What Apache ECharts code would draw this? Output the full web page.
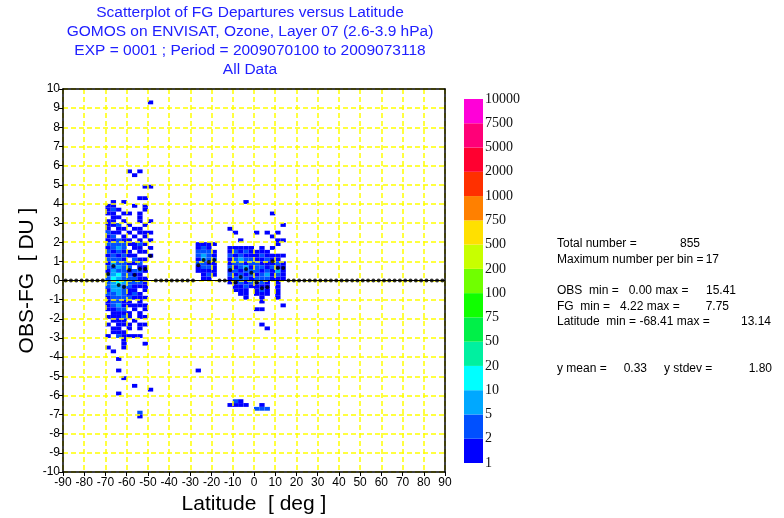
<!DOCTYPE html>
<html>
<head>
<meta charset="utf-8">
<script src="https://cdn.jsdelivr.net/npm/echarts@6/dist/echarts.min.js"></script>
<style>
html, body { margin: 0; padding: 0; background: #fff; }
#main { width: 784px; height: 518px; }
</style>
</head>
<body>
<div id="main"></div>
<script>
// histogram bin size (latitude deg, departure DU)
var latBin = 2.5
var depBin = 0.2

// colour scale: level boundaries (counts per bin) and colours, bottom to top
var levelLabels = ['1', '2', '5', '10', '20', '50', '75', '100', '200', '500', '750', '1000', '2000', '5000', '7500', '10000']
var levelValues = [1, 2, 5, 10, 20, 50, 75, 100, 200, 500, 750, 1000, 2000, 5000, 7500, 10000]
var levelColors = ['#0000ff', '#0050ff', '#00a8ff', '#00ffff', '#00f0a0', '#00f048', '#10ff00', '#70ff00', '#c8ff00', '#ffe000', '#ff8000', '#ff3000', '#ff0030', '#ff0078', '#ff00d8']

// southern high-latitude block: latitude bin centres, departure bin centres, counts
var blockALat = [-68.75, -66.25, -63.75, -61.25, -58.75, -56.25, -53.75, -51.25, -48.75]
var blockADep = [4.3, 4.1, 3.9, 3.7, 3.5, 3.3, 3.1, 2.9, 2.7, 2.5, 2.3, 2.1, 1.9, 1.7, 1.5, 1.3, 1.1, 0.9, 0.7, 0.5, 0.3, 0.1,
  -0.1, -0.3, -0.5, -0.7, -0.9, -1.1, -1.3, -1.5, -1.7, -1.9, -2.1, -2.3, -2.5, -2.7, -2.9, -3.1, -3.3, -3.5, -3.7]
var blockACounts = [
  [0, 0, 0, 0, 0, 0, 1, 1, 0],
  [0, 1, 0, 1, 0, 0, 0, 0, 0],
  [1, 1, 0, 0, 0, 1, 0, 1, 0],
  [1, 3, 1, 0, 0, 0, 0, 1, 0],
  [1, 1, 0, 1, 1, 0, 1, 0, 0],
  [0, 1, 1, 0, 0, 0, 1, 0, 0],
  [1, 1, 0, 1, 0, 0, 1, 0, 1],
  [1, 1, 3, 0, 1, 0, 0, 1, 0],
  [1, 0, 1, 1, 0, 1, 1, 0, 0],
  [3, 1, 1, 0, 1, 0, 1, 1, 1],
  [1, 3, 0, 1, 0, 1, 0, 1, 0],
  [1, 1, 3, 1, 1, 0, 1, 0, 1],
  [3, 3, 3, 3, 1, 1, 3, 1, 0],
  [1, 3, 6, 3, 0, 1, 1, 0, 1],
  [3, 1, 3, 1, 1, 0, 1, 1, 0],
  [1, 3, 1, 3, 1, 1, 0, 0, 1],
  [3, 3, 3, 1, 0, 3, 1, 1, 0],
  [1, 6, 3, 3, 1, 1, 3, 0, 0],
  [3, 3, 6, 3, 3, 0, 1, 1, 0],
  [1, 6, 3, 3, 1, 3, 3, 1, 0],
  [3, 6, 12, 3, 3, 1, 1, 0, 0],
  [3, 12, 6, 3, 3, 3, 1, 1, 0],
  [3, 6, 12, 6, 3, 3, 3, 1, 0],
  [3, 6, 6, 3, 3, 1, 1, 1, 0],
  [1, 6, 6, 3, 1, 1, 0, 1, 0],
  [3, 3, 6, 3, 1, 3, 1, 0, 0],
  [1, 3, 3, 3, 3, 1, 1, 1, 0],
  [1, 3, 3, 1, 1, 0, 1, 0, 0],
  [1, 3, 6, 1, 1, 1, 1, 1, 0],
  [1, 1, 3, 3, 0, 1, 0, 1, 0],
  [0, 1, 1, 1, 1, 0, 1, 0, 0],
  [1, 1, 1, 3, 1, 0, 1, 1, 0],
  [0, 1, 1, 1, 0, 1, 0, 0, 0],
  [1, 0, 1, 1, 1, 0, 1, 1, 0],
  [0, 1, 1, 0, 1, 0, 1, 0, 0],
  [0, 1, 1, 1, 0, 0, 0, 0, 0],
  [1, 0, 3, 1, 1, 1, 1, 0, 0],
  [0, 0, 0, 1, 0, 0, 0, 0, 0],
  [0, 0, 0, 1, 0, 0, 0, 1, 0],
  [1, 0, 0, 1, 0, 0, 0, 0, 0],
  [0, 1, 0, 0, 0, 0, 0, 0, 0]
]

// southern subtropical block
var blockBLat = [-26.25, -23.75, -21.25, -18.75]
var blockBDep = [1.9, 1.7, 1.5, 1.3, 1.1, 0.9, 0.7, 0.5, 0.3, 0.1]
var blockBCounts = [
  [1, 1, 1, 1],
  [1, 3, 1, 0],
  [3, 3, 3, 1],
  [3, 6, 3, 1],
  [1, 6, 3, 3],
  [3, 3, 1, 1],
  [1, 3, 3, 1],
  [1, 1, 1, 1],
  [0, 1, 3, 1],
  [0, 1, 1, 0]
]

// tropical block
var blockCLat = [-11.25, -8.75, -6.25, -3.75, -1.25, 1.25, 3.75, 6.25, 8.75, 11.25, 13.75]
var blockCDep = [2.7, 2.5, 2.3, 2.1, 1.9, 1.7, 1.5, 1.3, 1.1, 0.9, 0.7, 0.5, 0.3, 0.1, -0.1, -0.3, -0.5, -0.7, -0.9, -1.1, -1.3, -1.5]
var blockCCounts = [
  [1, 0, 0, 0, 0, 0, 0, 0, 0, 0, 0],
  [0, 1, 0, 0, 0, 1, 0, 1, 0, 1, 0],
  [0, 0, 0, 0, 0, 0, 0, 0, 1, 0, 0],
  [0, 0, 1, 0, 0, 0, 0, 0, 0, 1, 1],
  [0, 0, 0, 0, 0, 0, 0, 0, 0, 1, 0],
  [1, 1, 1, 1, 1, 0, 1, 0, 1, 0, 0],
  [1, 3, 1, 3, 1, 1, 1, 1, 0, 0, 0],
  [3, 1, 3, 1, 1, 1, 3, 1, 1, 1, 1],
  [1, 3, 6, 3, 3, 1, 1, 3, 1, 1, 0],
  [1, 3, 3, 1, 3, 3, 1, 1, 1, 3, 1],
  [3, 1, 3, 6, 1, 3, 3, 1, 3, 1, 1],
  [1, 3, 1, 3, 3, 3, 1, 3, 1, 6, 1],
  [3, 1, 3, 1, 3, 1, 3, 6, 1, 3, 1],
  [1, 3, 3, 3, 1, 3, 3, 3, 1, 1, 1],
  [1, 1, 3, 1, 3, 1, 3, 1, 0, 1, 0],
  [0, 1, 1, 3, 1, 1, 1, 1, 0, 1, 0],
  [0, 1, 1, 1, 0, 1, 3, 1, 0, 1, 0],
  [0, 0, 1, 1, 0, 1, 1, 1, 0, 1, 0],
  [0, 0, 0, 1, 0, 0, 1, 0, 0, 1, 0],
  [0, 0, 0, 0, 0, 0, 1, 0, 0, 0, 0],
  [0, 0, 0, 0, 0, 0, 0, 0, 0, 0, 1],
  [0, 0, 0, 0, 0, 1, 1, 0, 0, 0, 0]
]

// scattered single bins: [latitude, departure, count]
var outlierCells = [
  [-48.75, 9.3, 1], [-58.75, 5.7, 1], [-53.75, 5.7, 1], [-56.25, 5.5, 1], [-51.25, 4.9, 1], [-48.75, 4.9, 1],
  [-63.75, -4.1, 1], [-63.75, -4.7, 1], [-61.25, -5.1, 1], [-56.25, -5.5, 1], [-48.75, -5.7, 1], [-63.75, -5.9, 1],
  [-53.75, -6.9, 3], [-53.75, -7.1, 1], [-26.25, -4.7, 1],
  [-3.75, 4.1, 1], [8.75, 3.5, 1], [13.75, 2.9, 1], [3.75, -2.3, 1], [6.25, -2.5, 1],
  [-8.75, -6.3, 3], [-6.25, -6.3, 1], [-11.25, -6.5, 1], [-8.75, -6.5, 1], [-6.25, -6.5, 1], [-3.75, -6.5, 1],
  [3.75, -6.5, 1], [1.25, -6.7, 3], [3.75, -6.7, 3], [6.25, -6.7, 3]
]

// mean departure for every latitude bin (0 where there is no data)
var meanLat = [-88.75, -86.25, -83.75, -81.25, -78.75, -76.25, -73.75, -71.25, -68.75, -66.25, -63.75, -61.25,
  -58.75, -56.25, -53.75, -51.25, -48.75, -46.25, -43.75, -41.25, -38.75, -36.25, -33.75, -31.25,
  -28.75, -26.25, -23.75, -21.25, -18.75, -16.25, -13.75, -11.25, -8.75, -6.25, -3.75, -1.25,
  1.25, 3.75, 6.25, 8.75, 11.25, 13.75, 16.25, 18.75, 21.25, 23.75, 26.25, 28.75,
  31.25, 33.75, 36.25, 38.75, 41.25, 43.75, 46.25, 48.75, 51.25, 53.75, 56.25, 58.75,
  61.25, 63.75, 66.25, 68.75, 71.25, 73.75, 76.25, 78.75, 81.25, 83.75, 86.25, 88.75]
var meanDep = [0, 0, 0, 0, 0, 0, 0, 0, 0.34, 0.76, -0.23, -0.34,
  0.55, 0.29, 0.6, 0.6, 1.28, 0, 0, 0, 0, 0, 0, 0,
  0, 0.8, 1.07, 0.96, 1.07, 0, 0, 0.55, -0.1, 0.18, 0.6, 0.4,
  -0.1, -0.4, -0.35, 1.0, 0.65, 0.65, 0, 0, 0, 0, 0, 0,
  0, 0, 0, 0, 0, 0, 0, 0, 0, 0, 0, 0,
  0, 0, 0, 0, 0, 0, 0, 0, 0, 0, 0, 0]

var titleLines = [
  'Scatterplot of FG Departures versus Latitude',
  'GOMOS on ENVISAT, Ozone, Layer 07 (2.6-3.9 hPa)',
  'EXP = 0001 ; Period = 2009070100 to 2009073118',
  'All Data'
]
var statLabels = ['Total number =', 'Maximum number per bin =', 'OBS  min =   0.00 max =', 'FG  min =   4.22 max =', 'Latitude  min = -68.41 max =', 'y mean =', 'y stdev =']
var statValues = ['855', '17', '15.41', '7.75', '13.14', '0.33', '1.80']

var cellData = []
function addBlock(lats, deps, counts) {
  counts.forEach(function (row, r) {
    row.forEach(function (n, c) {
      if (n > 0) cellData.push([lats[c], deps[r], n])
    })
  })
}
addBlock(blockALat, blockADep, blockACounts)
addBlock(blockBLat, blockBDep, blockBCounts)
addBlock(blockCLat, blockCDep, blockCCounts)
outlierCells.forEach(function (c) { cellData.push(c) })

var meanData = meanLat.map(function (lat, i) { return [lat, meanDep[i]] })

var pieces = levelColors.map(function (col, i) {
  return { gte: levelValues[i], lt: levelValues[i + 1], color: col }
})

var font = 'Liberation Sans, Arial, sans-serif'
var gridLine = { show: true, lineStyle: { color: '#ffff00', width: 1.5, type: [5, 3] } }

var chart = echarts.init(document.getElementById('main'))

var colorbarSeries = levelColors.map(function (col) {
  return {
    type: 'bar', xAxisIndex: 2, yAxisIndex: 2, stack: 'bar', data: [1], barWidth: '100%',
    itemStyle: { color: col }, silent: true, animation: false
  }
})

var graphics = titleLines.map(function (t, i) {
  return { type: 'text', x: 250, y: 13 + i * 19, style: { text: t, font: '15.5px ' + font, fill: '#2020ff', textAlign: 'center', textVerticalAlign: 'middle' } }
})
var statRows = [244, 260, 291, 307, 322, 369, 369]
var statX = [557, 557, 557, 557, 557, 557, 664]
var valueX = [700, 719, 736, 729, 771, 647, 772]
statLabels.forEach(function (t, i) {
  graphics.push({ type: 'text', x: statX[i], y: statRows[i], style: { text: t, font: '12px ' + font, fill: '#000', textVerticalAlign: 'middle' } })
  graphics.push({ type: 'text', x: valueX[i], y: statRows[i], style: { text: statValues[i], font: '12px ' + font, fill: '#000', textAlign: 'right', textVerticalAlign: 'middle' } })
})

chart.setOption({
  animation: false,
  backgroundColor: '#fff',
  grid: [
    { left: 63, right: 339, top: 89, bottom: 46, outerBoundsMode: 'none' },
    { left: 63, right: 339, top: 89, bottom: 46, outerBoundsMode: 'none' },
    { left: 464, width: 19, top: 99, height: 364, outerBoundsMode: 'none' }
  ],
  visualMap: {
    type: 'piecewise', show: false, seriesIndex: 0, dimension: 2, pieces: pieces
  },
  xAxis: [
    {
      type: 'value', gridIndex: 0, min: -90, max: 90, interval: 10, z: 5,
      axisLine: { show: true, onZero: false, lineStyle: { color: '#000', width: 1.5 } },
      axisTick: { show: true, length: 4, lineStyle: { color: '#000' } },
      axisLabel: { color: '#000', fontSize: 12, fontFamily: font, margin: 5 },
      splitLine: gridLine,
      name: 'Latitude  [ deg ]', nameLocation: 'middle', nameGap: 19,
      nameTextStyle: { color: '#000', fontSize: 21, fontFamily: font }
    },
    {
      type: 'value', gridIndex: 1, min: -90, max: 90, interval: 10, position: 'top', z: 5,
      axisLine: { show: true, onZero: false, lineStyle: { color: '#000', width: 1.5 } },
      axisTick: { show: false }, axisLabel: { show: false }, splitLine: { show: false }
    },
    {
      type: 'category', gridIndex: 2, data: ['bar'], show: false
    }
  ],
  yAxis: [
    {
      type: 'value', gridIndex: 0, min: -10, max: 10, interval: 1, z: 5,
      axisLine: { show: true, onZero: false, lineStyle: { color: '#000', width: 1.5 } },
      axisTick: { show: true, length: 4, lineStyle: { color: '#000' } },
      axisLabel: { color: '#000', fontSize: 12, fontFamily: font, margin: 3 },
      splitLine: gridLine,
      name: 'OBS-FG  [ DU ]', nameLocation: 'middle', nameGap: 25,
      nameTextStyle: { color: '#000', fontSize: 21, fontFamily: font }
    },
    {
      type: 'value', gridIndex: 1, min: -10, max: 10, interval: 1, position: 'right', z: 5,
      axisLine: { show: true, onZero: false, lineStyle: { color: '#000', width: 1.5 } },
      axisTick: { show: false }, axisLabel: { show: false }, splitLine: { show: false }
    },
    {
      type: 'value', gridIndex: 2, min: 0, max: 15, interval: 1, position: 'right',
      axisLine: { show: false }, axisTick: { show: false }, splitLine: { show: false },
      axisLabel: {
        color: '#111', fontSize: 14, fontFamily: 'Liberation Serif, Times New Roman, serif', margin: 2,
        formatter: function (v) { return levelLabels[v] }
      }
    }
  ],
  series: [
    {
      type: 'custom', xAxisIndex: 0, yAxisIndex: 0, data: cellData, encode: { x: 0, y: 1 }, z: 2, clip: true,
      renderItem: function (params, api) {
        var lat = api.value(0)
        var dep = api.value(1)
        var p0 = api.coord([lat - latBin / 2, dep + depBin / 2])
        var p1 = api.coord([lat + latBin / 2, dep - depBin / 2])
        return {
          type: 'rect',
          shape: { x: p0[0], y: p0[1], width: p1[0] - p0[0], height: p1[1] - p0[1] },
          style: { fill: api.visual('color') }
        }
      }
    },
    {
      type: 'line', xAxisIndex: 0, yAxisIndex: 0, data: [[-90, 0], [90, 0]], symbol: 'none', z: 6,
      lineStyle: { color: '#000', width: 1 }, silent: true
    },
    {
      type: 'scatter', xAxisIndex: 0, yAxisIndex: 0, data: meanData, symbol: 'circle', symbolSize: 4, z: 7,
      itemStyle: { color: '#000' }, silent: true
    }
  ].concat(colorbarSeries),
  graphic: graphics
})
</script>
</body>
</html>
